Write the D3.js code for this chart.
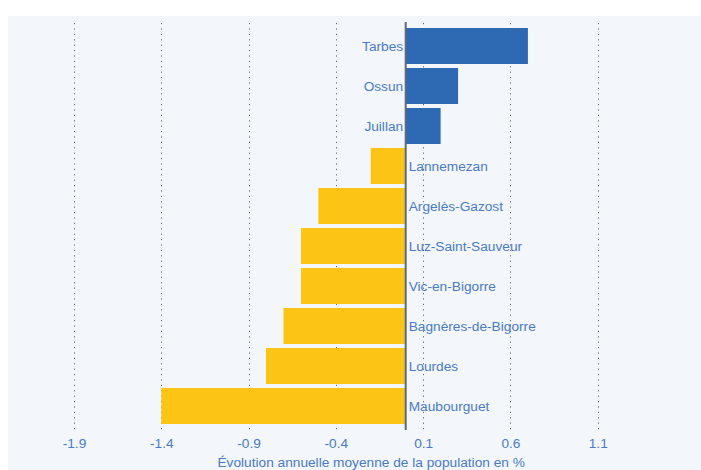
<!DOCTYPE html>
<html><head><meta charset="utf-8">
<script src="https://cdn.jsdelivr.net/npm/d3@7/dist/d3.min.js"></script>
<style>
html,body{margin:0;padding:0;background:#ffffff;}
svg{display:block;font-family:"Liberation Sans",Arial,sans-serif;}
</style></head>
<body>
<svg id="chart" width="701" height="470"></svg>
<script>
const categories = ["Tarbes","Ossun","Juillan","Lannemezan","Argelès-Gazost","Luz-Saint-Sauveur","Vic-en-Bigorre","Bagnères-de-Bigorre","Lourdes","Maubourguet"];
const values = [0.7, 0.3, 0.2, -0.2, -0.5, -0.6, -0.6, -0.7, -0.8, -1.4];
const tickValues = [-1.9, -1.4, -0.9, -0.4, 0.1, 0.6, 1.1];
const axisTitle = "Évolution annuelle moyenne de la population en %";

const svg = d3.select("#chart");
const textColor = "#4a7bc4";
const fs = "13.7px";

svg.append("rect").attr("x", 8).attr("y", 16).attr("width", 693).attr("height", 454).attr("fill", "#f3f6fa");

const x = d3.scaleLinear().domain([-2.2, 1.6]).range([405.7 - 2.2*174.6, 405.7 + 1.6*174.6]);
const y = d3.scaleBand().domain(categories).range([26, 426]).paddingInner(0.1).paddingOuter(0.05);

// gridlines
svg.append("g").selectAll("line").data(tickValues).join("line")
  .attr("x1", d => Math.round(x(d)) + 0.5).attr("x2", d => Math.round(x(d)) + 0.5)
  .attr("y1", 23).attr("y2", 430)
  .attr("stroke", "#666").attr("stroke-width", 1)
  .attr("stroke-dasharray", "1.2,4.2");

// bars
svg.append("g").selectAll("rect").data(categories).join("rect")
  .attr("x", (d,i) => x(Math.min(0, values[i])))
  .attr("width", (d,i) => Math.abs(x(values[i]) - x(0)))
  .attr("y", d => y(d))
  .attr("height", y.bandwidth())
  .attr("fill", (d,i) => values[i] >= 0 ? "#2e69b3" : "#fcc415");

// zero axis
svg.append("line").attr("x1", x(0)).attr("x2", x(0)).attr("y1", 22).attr("y2", 430)
  .attr("stroke", "#5b6a80").attr("stroke-width", 2);

// category labels
svg.append("g").selectAll("text").data(categories).join("text")
  .attr("x", (d,i) => values[i] >= 0 ? x(0) - 2.5 : x(0) + 3)
  .attr("y", d => y(d) + y.bandwidth()/2)
  .attr("dy", "0.35em")
  .attr("text-anchor", (d,i) => values[i] >= 0 ? "end" : "start")
  .attr("fill", textColor).attr("font-size", fs)
  .text(d => d);

// x axis tick labels
const xAxis = d3.axisBottom(x).tickValues(tickValues).tickSize(0).tickPadding(0)
  .tickFormat(d => d3.format(".1f")(d).replace("−","-"));
const gx = svg.append("g").attr("transform", "translate(0,438.5)").call(xAxis);
gx.select(".domain").remove();
gx.selectAll("text").attr("fill", textColor).attr("font-size", fs)
  .attr("font-family", "Liberation Sans, Arial, sans-serif").attr("dy", "0.71em");

// axis title
svg.append("text").attr("x", x(0.1) - 52).attr("y", 462).attr("dy", "0.35em")
  .attr("text-anchor", "middle").attr("fill", textColor).attr("font-size", fs)
  .text(axisTitle);
</script>
</body></html>
